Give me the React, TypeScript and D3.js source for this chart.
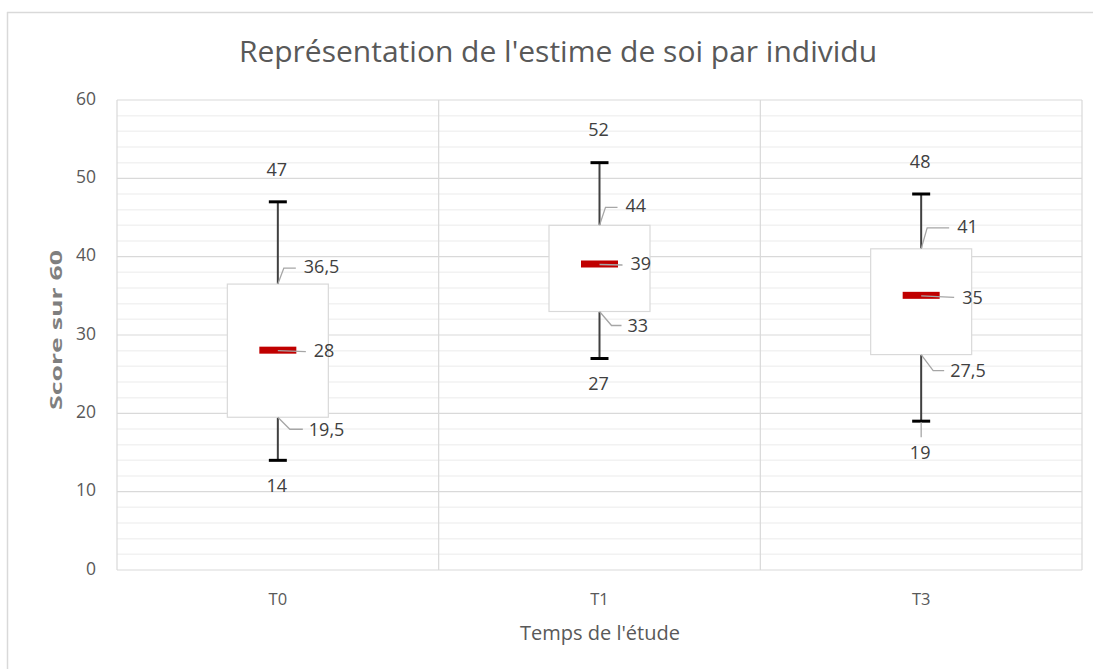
import React from 'react';
import * as d3 from 'd3';

// values
const categories = ['T0', 'T1', 'T3'];
const minValues = [14, 27, 19];
const q1Values = [19.5, 33, 27.5];
const medianValues = [28, 39, 35];
const q3Values = [36.5, 44, 41];
const maxValues = [47, 52, 48];
const q1Labels = ['19,5', '33', '27,5'];
const medianLabels = ['28', '39', '35'];
const q3Labels = ['36,5', '44', '41'];
const yTicks = [0, 10, 20, 30, 40, 50, 60];

const W = 1093;
const H = 669;
const margin = { top: 100, right: 11, bottom: 99, left: 117 };
const FONT = "'Open Sans', 'Noto Sans', sans-serif";
const TEXT = '#595959';
const LABEL = 18;

// label placement tweaks (pixels) per category
const q3Off = [{ dx: 26, dy: -16 }, { dx: 26, dy: -18 }, { dx: 36, dy: -21 }];
const medOff = [{ dx: 36, dy: 2 }, { dx: 31, dy: 1 }, { dx: 41, dy: 3 }];
const q1Off = [{ dx: 31, dy: 14 }, { dx: 28, dy: 16 }, { dx: 29, dy: 18 }];
const minOff = [27, 27, 33];

export default function App() {
  const innerW = W - margin.left - margin.right;
  const innerH = H - margin.top - margin.bottom;

  const x = d3.scaleBand<string>().domain(categories).range([margin.left, margin.left + innerW]);
  const y = d3.scaleLinear().domain([0, 60]).range([margin.top + innerH, margin.top]);
  const minorTicks = d3.range(0, 61, 2).filter((v) => v % 10 !== 0);

  const boxW = 101;
  const capW = 18;
  const medW = 37;

  return (
    <svg
      width={W}
      height={H}
      style={{ position: 'fixed', left: 0, top: 0, background: '#fff' }}
      fontFamily={FONT}
    >
      {/* chart border */}
      <line x1={7} x2={W} y1={12.5} y2={12.5} stroke="#d9d9d9" strokeWidth={1.5} />
      <line x1={7.5} x2={7.5} y1={12} y2={H} stroke="#d9d9d9" strokeWidth={1.5} />

      <text x={558} y={54} textAnchor="middle" dominantBaseline="middle" fontSize={30} fill={TEXT}>
        Représentation de l'estime de soi par individu
      </text>

      {/* minor grid */}
      {minorTicks.map((v) => (
        <line key={'m' + v} x1={margin.left} x2={margin.left + innerW} y1={y(v)} y2={y(v)} stroke="#f2f2f2" strokeWidth={1.5} />
      ))}
      {/* major grid */}
      {yTicks.map((v) => (
        <line key={'g' + v} x1={margin.left} x2={margin.left + innerW} y1={y(v)} y2={y(v)} stroke="#d9d9d9" strokeWidth={1.2} />
      ))}
      {/* category separators */}
      {categories.map((c) => (
        <line
          key={'v' + c}
          x1={x(c) ?? 0}
          x2={x(c) ?? 0}
          y1={margin.top}
          y2={margin.top + innerH}
          stroke="#d9d9d9"
          strokeWidth={1.2}
        />
      ))}
      <line x1={margin.left + innerW} x2={margin.left + innerW} y1={margin.top} y2={margin.top + innerH} stroke="#d9d9d9" strokeWidth={1.2} />

      {/* y tick labels */}
      {yTicks.map((v) => (
        <text key={'t' + v} x={96} y={y(v)} textAnchor="end" dominantBaseline="middle" fontSize={17.5} fill={TEXT}>
          {v}
        </text>
      ))}

      {/* x tick labels */}
      {categories.map((c) => (
        <text
          key={'x' + c}
          x={(x(c) ?? 0) + x.bandwidth() / 2}
          y={601}
          textAnchor="middle"
          dominantBaseline="middle"
          fontSize={16.5}
          fill={TEXT}
        >
          {c}
        </text>
      ))}

      <text x={600} y={635} textAnchor="middle" dominantBaseline="middle" fontSize={20} fill={TEXT}>
        Temps de l'étude
      </text>

      <text
        transform={`translate(58,330) rotate(-90)`}
        textAnchor="middle"
        dominantBaseline="middle"
        fontSize={16}
        fontWeight="bold"
        fill="#7f7f7f"
        textLength={160}
        lengthAdjust="spacingAndGlyphs"
      >
        Score sur 60
      </text>

      {/* boxes */}
      {categories.map((c, i) => {
        const cx = (x(c) ?? 0) + x.bandwidth() / 2;
        const yMin = y(minValues[i]);
        const yQ1 = y(q1Values[i]);
        const yMed = y(medianValues[i]);
        const yQ3 = y(q3Values[i]);
        const yMax = y(maxValues[i]);
        const lead = '#a6a6a6';
        return (
          <g key={'b' + c}>
            {/* whiskers */}
            <line x1={cx} x2={cx} y1={yMax} y2={yQ3} stroke="#404040" strokeWidth={2} />
            <line x1={cx} x2={cx} y1={yQ1} y2={yMin} stroke="#404040" strokeWidth={2} />
            <line x1={cx - capW / 2} x2={cx + capW / 2} y1={yMax} y2={yMax} stroke="#000" strokeWidth={3} />
            <line x1={cx - capW / 2} x2={cx + capW / 2} y1={yMin} y2={yMin} stroke="#000" strokeWidth={3} />
            {/* box */}
            <rect x={cx - boxW / 2} y={yQ3} width={boxW} height={yQ1 - yQ3} fill="#fff" stroke="#d9d9d9" strokeWidth={1.2} />
            {/* median */}
            <rect x={cx - medW / 2} y={yMed - 4} width={medW} height={7} fill="#c00000" />

            {/* leader lines */}
            <polyline
              points={`${cx},${yQ3} ${cx + 6},${yQ3 + q3Off[i].dy} ${cx + q3Off[i].dx - 8},${yQ3 + q3Off[i].dy}`}
              fill="none"
              stroke={lead}
              strokeWidth={1.3}
            />
            <polyline
              points={`${cx},${yMed} ${cx + medOff[i].dx - 8},${yMed + medOff[i].dy * 0.5}`}
              fill="none"
              stroke={lead}
              strokeWidth={1.3}
            />
            <polyline
              points={`${cx},${yQ1} ${cx + 12},${yQ1 + q1Off[i].dy - 2} ${cx + q1Off[i].dx - 6},${yQ1 + q1Off[i].dy - 2}`}
              fill="none"
              stroke={lead}
              strokeWidth={1.3}
            />
            {minOff[i] > 30 && (
              <line x1={cx} x2={cx} y1={yMin + 1} y2={yMin + 16} stroke={lead} strokeWidth={1.3} />
            )}

            {/* labels */}
            <text x={cx - 1} y={yMax - 31} textAnchor="middle" dominantBaseline="middle" fontSize={LABEL} fill="#404040">
              {maxValues[i]}
            </text>
            <text x={cx - 1} y={yMin + minOff[i]} textAnchor="middle" dominantBaseline="middle" fontSize={LABEL} fill="#404040">
              {minValues[i]}
            </text>
            <text x={cx + q3Off[i].dx} y={yQ3 + q3Off[i].dy} dominantBaseline="middle" fontSize={LABEL} fill="#404040">
              {q3Labels[i]}
            </text>
            <text x={cx + medOff[i].dx} y={yMed + medOff[i].dy} dominantBaseline="middle" fontSize={LABEL} fill="#404040">
              {medianLabels[i]}
            </text>
            <text x={cx + q1Off[i].dx} y={yQ1 + q1Off[i].dy} dominantBaseline="middle" fontSize={LABEL} fill="#404040">
              {q1Labels[i]}
            </text>
          </g>
        );
      })}
    </svg>
  );
}
